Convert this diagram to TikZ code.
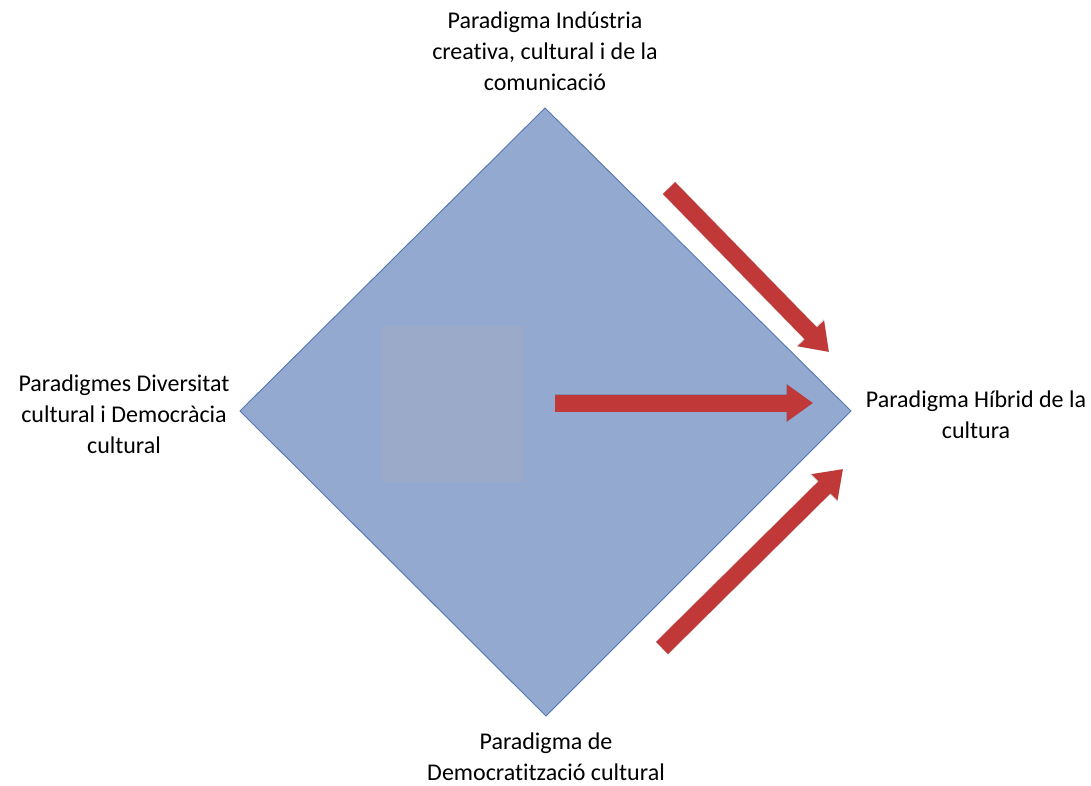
\documentclass[tikz,border=0pt]{standalone}
\usepackage{fontspec}
\setmainfont{Carlito}[Ligatures={NoCommon}]
\usetikzlibrary{arrows.meta}
\definecolor{diamondfill}{RGB}{148,169,208}
\definecolor{diamondline}{RGB}{84,118,178}
\definecolor{innerbox}{RGB}{154,170,200}
\definecolor{arrowred}{RGB}{192,56,55}
\tikzset{
  label text/.style={align=center, font=\fontsize{24}{31}\selectfont, text=black, inner sep=0pt},
  red arrow/.style={draw=arrowred, line width=17pt,
    -{Triangle[width=35pt,length=26pt]}},
  arrow shade/.style={draw=black, opacity=0.15, line width=18pt,
    -{Triangle[width=37pt,length=27pt]}},
}
\begin{document}
\begin{tikzpicture}[x=1pt,y=-1pt]
  \useasboundingbox[fill=white] (0,0) rectangle (1091,785);

  % the diamond
  \coordinate (top) at (545,108);
  \coordinate (right) at (851,411);
  \coordinate (bottom) at (546,716);
  \coordinate (left) at (240,411);
  \draw[fill=diamondfill, draw=diamondline, line width=0.9pt]
    (top) -- (right) -- (bottom) -- (left) -- cycle;

  % faint inner box
  \fill[innerbox] (382,326) rectangle (523,482);

  % labels at the four corners
  \node[label text] (ltop) at (545,51) {Paradigma Indústria\\creativa, cultural i de la\\comunicació};
  \node[label text] (lleft) at (124,414) {Paradigmes Diversitat\\cultural i Democràcia\\cultural};
  \node[label text] (lright) at (976,415) {Paradigma Híbrid de la\\cultura};
  \node[label text] (lbottom) at (546,757) {Paradigma de\\Democratització cultural};

  % arrow end points
  \coordinate (a1s) at (669,188);
  \coordinate (a1e) at (829,352);
  \coordinate (a2s) at (555,403);
  \coordinate (a2e) at (813,403);
  \coordinate (a3s) at (662,648);
  \coordinate (a3e) at (843,469);

  % soft shadows
  \begin{scope}[shift={(2,3)}]
    \draw[arrow shade] (a1s) -- (a1e);
    \draw[arrow shade] (a2s) -- (a2e);
    \draw[arrow shade] (a3s) -- (a3e);
  \end{scope}

  % red arrows
  \draw[red arrow] (a1s) -- (a1e);
  \draw[red arrow] (a2s) -- (a2e);
  \draw[red arrow] (a3s) -- (a3e);
\end{tikzpicture}
\end{document}
